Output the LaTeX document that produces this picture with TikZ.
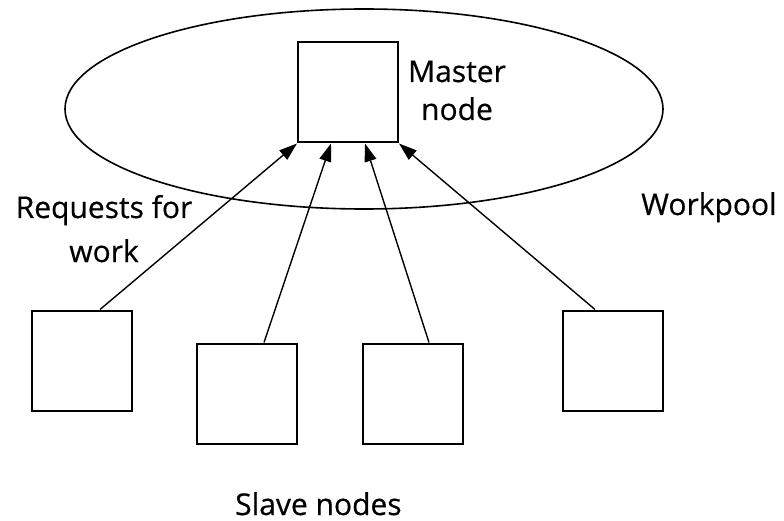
\documentclass[tikz,border=0pt]{standalone}
\usepackage{fontspec}
\setmainfont[FakeBold=0.5]{Open Sans}
\usetikzlibrary{arrows.meta}
\begin{document}
\begin{tikzpicture}[x=1pt,y=-1pt,
    box/.style={draw,line width=2pt,minimum width=100pt,minimum height=100pt,inner sep=0pt},
    lbl/.style={anchor=base,align=center,inner sep=0pt,font=\fontsize{30}{38}\selectfont},
    >={Triangle[length=18pt,width=12pt]}]
    \useasboundingbox (0,0) rectangle (784,521);
    % Workpool
    \draw[line width=1.6pt] (364,109) ellipse [x radius=299,y radius=100];
    \node[box] (master) at (348,92.5) {};
    \node[box] (s1) at (81.5,360.5) {};
    \node[box] (s2) at (247,393.5) {};
    \node[box] (s3) at (413,393.5) {};
    \node[box] (s4) at (613,360.5) {};
    \draw[->,line width=1.4pt] ([xshift=18.5pt]s1.north)--(master.south west);
    \draw[->,line width=1.4pt] ([xshift=17pt]s2.north)--([xshift=-17pt]master.south);
    \draw[->,line width=1.4pt] ([xshift=16pt]s3.north)--([xshift=17pt]master.south);
    \draw[->,line width=1.4pt] ([xshift=-18pt]s4.north)--(master.south east);
    \node[lbl] (mlbl) at (457,120) {Master\\node};
    \node[lbl] (req) at (104,262) {Requests for\\[6pt]work};
    \node[lbl,anchor=base west] (pool) at (641,215) {Workpool};
    \node[lbl,anchor=base west] (slaves) at (235,515) {Slave nodes};
\end{tikzpicture}
\end{document}
